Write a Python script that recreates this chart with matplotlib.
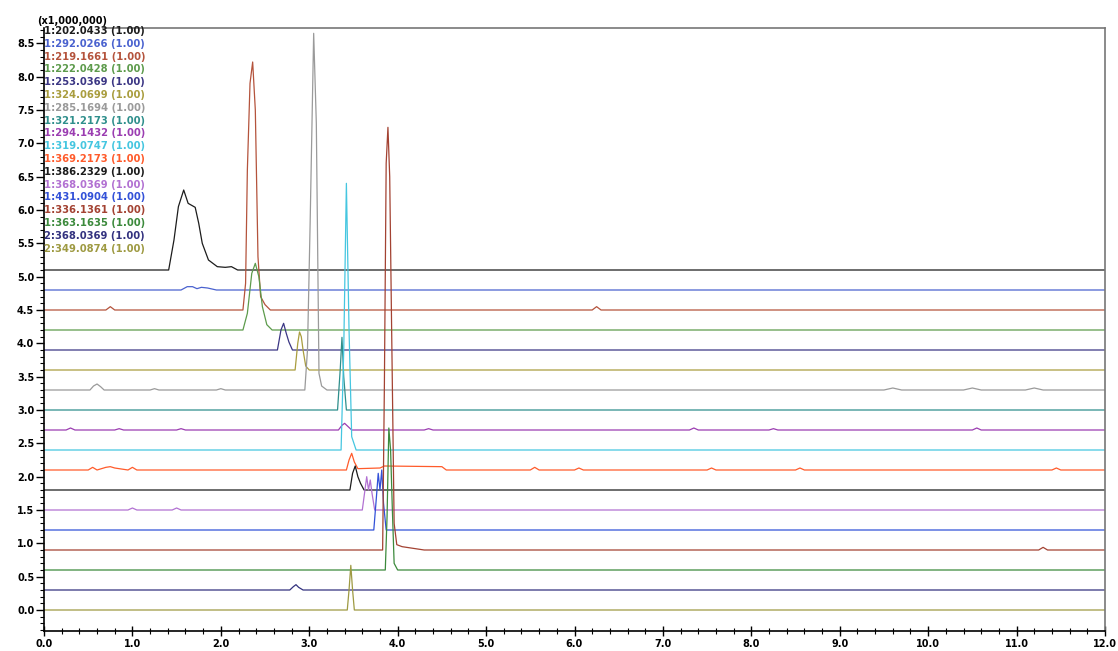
import matplotlib
matplotlib.use("Agg")
import matplotlib.pyplot as plt
from matplotlib.ticker import MultipleLocator

# channel names (m/z) in stacking order, top trace first
labels = ["1:202.0433 (1.00)", "1:292.0266 (1.00)", "1:219.1661 (1.00)", "1:222.0428 (1.00)",
          "1:253.0369 (1.00)", "1:324.0699 (1.00)", "1:285.1694 (1.00)", "1:321.2173 (1.00)",
          "1:294.1432 (1.00)", "1:319.0747 (1.00)", "1:369.2173 (1.00)", "1:386.2329 (1.00)",
          "1:368.0369 (1.00)", "1:431.0904 (1.00)", "1:336.1361 (1.00)", "1:363.1635 (1.00)",
          "2:368.0369 (1.00)", "2:349.0874 (1.00)"]
colors = ["#1c1c1c", "#4a62cf", "#b4533c", "#5d9b4c", "#3b3684", "#a99d3e", "#9a9a9a", "#2f8f8c",
          "#9b3db1", "#45c6e0", "#ff5b2b", "#1c1c1c", "#b271d2", "#3251d8", "#a34232", "#3c8a3c",
          "#33327f", "#9e9a42"]

# retention time (min) / intensity above baseline (x1,000,000) for each channel
t = {}
h = {}
t[0] = [0, 1.41, 1.47, 1.52, 1.58, 1.63, 1.67, 1.71, 1.75, 1.79, 1.86, 1.96, 2.05, 2.12, 2.19, 12]
h[0] = [0, 0, 0.45, 0.95, 1.20, 1.00, 0.97, 0.94, 0.70, 0.40, 0.15, 0.05, 0.04, 0.05, 0, 0]
t[1] = [0, 1.55, 1.62, 1.68, 1.73, 1.78, 1.85, 1.95, 12]
h[1] = [0, 0, 0.05, 0.05, 0.02, 0.04, 0.03, 0, 0]
t[2] = [0, 0.70, 0.75, 0.80, 2.25, 2.28, 2.30, 2.33, 2.36, 2.39, 2.42, 2.45, 2.50, 2.56, 6.20, 6.25, 6.30, 12]
h[2] = [0, 0, 0.05, 0, 0, 0.4, 2.1, 3.4, 3.72, 3.0, 0.8, 0.2, 0.08, 0, 0, 0.05, 0, 0]
t[3] = [0, 2.25, 2.30, 2.35, 2.39, 2.43, 2.47, 2.52, 2.58, 12]
h[3] = [0, 0, 0.25, 0.85, 1.00, 0.80, 0.35, 0.08, 0, 0]
t[4] = [0, 2.64, 2.68, 2.71, 2.74, 2.77, 2.81, 12]
h[4] = [0, 0, 0.30, 0.40, 0.25, 0.12, 0, 0]
t[5] = [0, 2.84, 2.87, 2.89, 2.91, 2.93, 2.96, 3.00, 12]
h[5] = [0, 0, 0.40, 0.57, 0.50, 0.30, 0.06, 0, 0]
t[6] = [0, 0.52, 0.56, 0.60, 0.64, 0.68, 1.20, 1.25, 1.30, 1.95, 2.00, 2.05, 2.95, 2.98, 3.01, 3.05,
        3.08, 3.11, 3.14, 3.20, 9.50, 9.60, 9.70, 10.40, 10.50, 10.60, 11.10, 11.20, 11.30, 12]
h[6] = [0, 0, 0.06, 0.09, 0.05, 0, 0, 0.02, 0, 0, 0.02, 0, 0, 0.6, 2.5, 5.35,
        4.0, 0.25, 0.06, 0, 0, 0.03, 0, 0, 0.03, 0, 0, 0.03, 0, 0]
t[7] = [0, 3.32, 3.35, 3.37, 3.39, 3.42, 12]
h[7] = [0, 0, 0.60, 1.09, 0.50, 0, 0]
t[8] = [0, 0.25, 0.30, 0.35, 0.80, 0.85, 0.90, 1.50, 1.55, 1.60, 3.33, 3.37, 3.40, 3.44, 3.48,
        4.30, 4.35, 4.40, 7.30, 7.35, 7.40, 8.20, 8.25, 8.30, 10.50, 10.55, 10.60, 12]
h[8] = [0, 0, 0.03, 0, 0, 0.02, 0, 0, 0.02, 0, 0, 0.07, 0.10, 0.05, 0,
        0, 0.02, 0, 0, 0.03, 0, 0, 0.02, 0, 0, 0.03, 0, 0]
t[9] = [0, 3.36, 3.39, 3.42, 3.45, 3.48, 3.53, 12]
h[9] = [0, 0, 1.5, 4.0, 1.8, 0.2, 0, 0]
t[10] = [0, 0.50, 0.55, 0.60, 0.70, 0.75, 0.80, 0.95, 1.00, 1.05, 3.42, 3.45, 3.48, 3.51, 3.55,
         3.80, 3.85, 4.50, 4.55, 5.50, 5.55, 5.60, 6.00, 6.05, 6.10, 7.50, 7.55, 7.60, 8.50, 8.55,
         8.60, 11.40, 11.45, 11.50, 12]
h[10] = [0, 0, 0.04, 0, 0.04, 0.05, 0.03, 0, 0.04, 0, 0, 0.15, 0.25, 0.12, 0.02,
         0.03, 0.06, 0.05, 0, 0, 0.04, 0, 0, 0.03, 0, 0, 0.03, 0, 0, 0.03,
         0, 0, 0.03, 0, 0]
t[11] = [0, 3.46, 3.49, 3.52, 3.55, 3.58, 3.62, 12]
h[11] = [0, 0, 0.25, 0.36, 0.20, 0.10, 0, 0]
t[12] = [0, 0.95, 1.00, 1.05, 1.45, 1.50, 1.55, 3.60, 3.63, 3.65, 3.67, 3.69, 3.71, 3.74, 12]
h[12] = [0, 0, 0.03, 0, 0, 0.03, 0, 0, 0.30, 0.50, 0.30, 0.45, 0.25, 0, 0]
t[13] = [0, 3.73, 3.76, 3.78, 3.80, 3.82, 3.84, 3.87, 12]
h[13] = [0, 0, 0.50, 0.85, 0.60, 0.90, 0.40, 0, 0]
t[14] = [0, 3.83, 3.85, 3.87, 3.89, 3.91, 3.93, 3.96, 3.99, 4.05, 4.15, 4.30, 11.25, 11.30, 11.35, 12]
h[14] = [0, 0, 2.5, 5.8, 6.34, 5.6, 3.5, 0.4, 0.08, 0.05, 0.03, 0, 0, 0.04, 0, 0]
t[15] = [0, 3.86, 3.88, 3.90, 3.92, 3.94, 3.96, 4.00, 12]
h[15] = [0, 0, 0.8, 2.13, 1.8, 0.9, 0.1, 0, 0]
t[16] = [0, 2.78, 2.82, 2.85, 2.88, 2.93, 12]
h[16] = [0, 0, 0.05, 0.08, 0.04, 0, 0]
t[17] = [0, 3.43, 3.45, 3.47, 3.49, 3.51, 12]
h[17] = [0, 0, 0.30, 0.67, 0.30, 0, 0]

step = 0.3  # vertical spacing between stacked channels
n = len(labels)

fig = plt.figure(figsize=(11.18, 6.51), dpi=100)
ax = fig.add_axes([44 / 1118, 20 / 651, 1061 / 1118, 603 / 651])

for i in range(n):
    base = step * (n - 1 - i)
    ax.plot(t[i], [base + v for v in h[i]], color=colors[i], lw=0.9)

ax.set_xlim(0, 12)
ax.set_ylim(-0.315, 8.73)
ax.xaxis.set_major_locator(MultipleLocator(1.0))
ax.xaxis.set_minor_locator(MultipleLocator(0.2))
ax.yaxis.set_major_locator(MultipleLocator(0.5))
ax.yaxis.set_minor_locator(MultipleLocator(0.1))
ax.xaxis.set_major_formatter(plt.FormatStrFormatter("%.1f"))
ax.yaxis.set_major_formatter(plt.FormatStrFormatter("%.1f"))
ax.tick_params(axis="y", which="major", direction="out", length=6, width=1, labelsize=7, pad=1)
ax.tick_params(axis="y", which="minor", direction="out", length=3, width=0.8)
ax.tick_params(axis="x", which="major", direction="inout", length=7, width=1, labelsize=7, pad=2)
ax.tick_params(axis="x", which="minor", direction="inout", length=5, width=0.8)
for lab in ax.get_xticklabels() + ax.get_yticklabels():
    lab.set_fontweight("bold")

for side in ["top", "right"]:
    ax.spines[side].set_color("#777777")
    ax.spines[side].set_linewidth(1.2)
ax.spines["top"].set_bounds(0.67, 12)
for side in ["left", "bottom"]:
    ax.spines[side].set_linewidth(1.2)

fig.text(37 / 1118, 1 - 21 / 651, "(x1,000,000)", fontsize=7, fontweight="bold", va="center")
for i in range(n):
    fig.text(44 / 1118, 1 - (31 + 12.8 * i) / 651, labels[i], color=colors[i],
             fontsize=7.2, fontweight="bold", va="center")

fig.savefig("out.png", dpi=100)
